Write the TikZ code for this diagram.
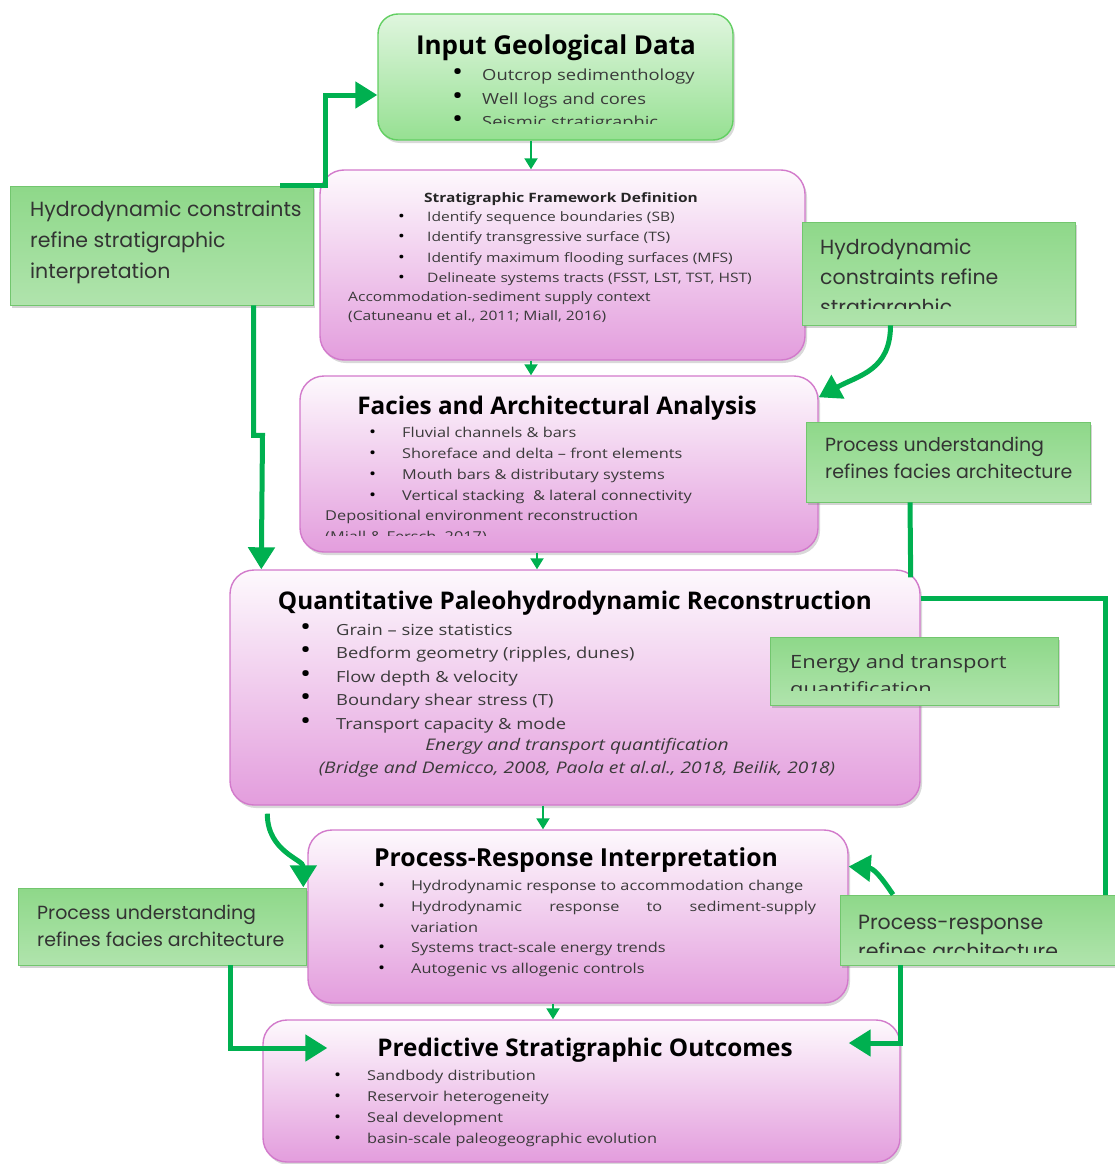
\documentclass[tikz,border=0pt]{standalone}
\usepackage{fontspec}
\setmainfont{Open Sans}
\newfontfamily\listfont[FakeStretch=1.2]{Open Sans}
\newfontfamily\notefont{Poppins}
\usepackage{tikz}
\usetikzlibrary{shapes,arrows.meta,positioning,shadows}

\definecolor{flowgreen}{HTML}{00B050}
\definecolor{stagepink}{HTML}{E39DDD}
\definecolor{stageedge}{HTML}{D27ACB}
\definecolor{inputgreen}{HTML}{96E092}
\definecolor{inputedge}{HTML}{62CF62}
\definecolor{notegreen}{HTML}{8ED889}
\definecolor{noteedge}{HTML}{72C66E}
\definecolor{listgray}{HTML}{3A3A3A}

\newcommand{\bul}[1][33pt]{\makebox[#1][l]{\textcolor{black}{\scalebox{1.6}{\textbullet}}}}
\newcommand{\sbul}[1][33pt]{\makebox[#1][l]{\textcolor{black}{\scalebox{1.15}{\textbullet}}}}

\tikzset{
  stage/.style={draw=stageedge, line width=1.4pt, rounded corners=24pt, inner sep=0pt,
    top color=stagepink!6, middle color=stagepink!45!white, bottom color=stagepink,
    drop shadow={opacity=0.3, shadow xshift=2pt, shadow yshift=-3pt}},
  inputbox/.style={draw=inputedge, line width=1.4pt, rounded corners=20pt, inner sep=0pt,
    top color=inputgreen!30!white, bottom color=inputgreen,
    drop shadow={opacity=0.3, shadow xshift=2pt, shadow yshift=-3pt}},
  note/.style={draw=noteedge, line width=0.8pt, inner sep=0pt, shading angle=-25,
    top color=notegreen, middle color=notegreen!25!white, bottom color=notegreen!70!white,
    drop shadow={opacity=0.35, shadow xshift=2pt, shadow yshift=-3pt}},
  title/.style={font=\fontsize{24.3}{27}\selectfont\bfseries, text=black},
  items/.style={align=left, anchor=west, inner sep=0pt, text=listgray},
  notetext/.style={align=left, anchor=west, inner sep=0pt, text=black!80},
  link/.style={draw=flowgreen, line width=2pt, -{Triangle[width=13pt,length=11pt]}},
  flowline/.style={draw=flowgreen, line width=5pt},
  feedback/.style={flowline, -{Triangle[width=26pt,length=22pt]}},
}

\begin{document}
\begin{tikzpicture}[x=1pt, y=-1pt]
  \useasboundingbox (0,0) rectangle (1115,1164);

  % main stages
  \node[inputbox, minimum width=355pt, minimum height=126pt] (input) at (555.5,77) {};
  \node[stage, minimum width=485pt, minimum height=190pt] (strat) at (562.5,265) {};
  \node[stage, minimum width=518pt, minimum height=176pt] (facies) at (559,464) {};
  \node[stage, minimum width=690pt, minimum height=235pt] (quant) at (575,687.5) {};
  \node[stage, minimum width=540pt, minimum height=173pt] (resp) at (578,916.5) {};
  \node[stage, minimum width=637pt, minimum height=142pt] (pred) at (581.5,1091) {};

  % stage texts
  \node[title, font=\fontsize{26}{29}\selectfont\bfseries] (input-t) at (556,48) {Input Geological Data};
  \begin{scope}
    \clip (380,15) rectangle (732,123);
    \node[items, font=\listfont\fontsize{15.3}{23.5}\selectfont] (input-l) at (452,100)
      {\bul[30pt]Outcrop sedimenthology\\ \bul[30pt]Well logs and cores\\ \bul[30pt]Seismic stratigraphic};
  \end{scope}

  \node[font=\listfont\fontsize{12.9}{15}\selectfont\bfseries, text=black!85] (strat-t) at (561,199)
    {Stratigraphic Framework Definition};
  \node[items, font=\listfont\fontsize{13}{20.3}\selectfont] (strat-l) at (398,248.5)
    {\sbul[29pt]Identify sequence boundaries (SB)\\ \sbul[29pt]Identify transgressive surface (TS)\\
     \sbul[29pt]Identify maximum flooding surfaces (MFS)\\ \sbul[29pt]Delineate systems tracts (FSST, LST, TST, HST)};
  \node[items, font=\listfont\fontsize{13}{19}\selectfont] (strat-c) at (348,307.5)
    {Accommodation-sediment supply context\\ (Catuneanu et al., 2011; Miall, 2016)};

  \node[title] (facies-t) at (557,408) {Facies and Architectural Analysis};
  \node[items, font=\listfont\fontsize{13.6}{21}\selectfont] (facies-l) at (369,465.5)
    {\sbul Fluvial channels \& bars\\ \sbul Shoreface and delta \textendash{} front elements\\
     \sbul Mouth bars \& distributary systems\\ \sbul Vertical stacking \ \& lateral connectivity};
  \node[items, font=\listfont\fontsize{13.6}{20}\selectfont] (facies-c) at (325,517)
    {Depositional environment reconstruction};
  \begin{scope}
    \clip (310,522) rectangle (800,535);
    \node[items, font=\listfont\fontsize{13.6}{20}\selectfont] (facies-r) at (325,537.5) {(Miall \& Fersch, 2017)};
  \end{scope}

  \node[title] (quant-t) at (575,603) {Quantitative Paleohydrodynamic Reconstruction};
  \node[items, font=\listfont\fontsize{15.3}{23.5}\selectfont] (quant-l) at (300,678)
    {\bul[36pt]Grain \textendash{} size statistics\\ \bul[36pt]Bedform geometry (ripples, dunes)\\
     \bul[36pt]Flow depth \& velocity\\ \bul[36pt]Boundary shear stress (T)\\ \bul[36pt]Transport capacity \& mode};
  \node[font=\listfont\fontsize{16}{23}\selectfont\itshape, text=listgray, align=center] (quant-c) at (577,758)
    {Energy and transport quantification\\ (Bridge and Demicco, 2008, Paola et al.al., 2018, Beilik, 2018)};

  \node[title, font=\fontsize{24.8}{27}\selectfont\bfseries] (resp-t) at (576,860) {Process-Response Interpretation};
  \node[items, font=\listfont\fontsize{13.6}{20.75}\selectfont] (resp-l) at (378,928.5)
    {\sbul Hydrodynamic response to accommodation change\\
     \sbul\makebox[405pt][s]{Hydrodynamic\hfill response\hfill to\hfill sediment-supply}\\
     \hspace*{33pt}variation\\
     \sbul Systems tract-scale energy trends\\ \sbul Autogenic vs allogenic controls};

  \node[title] (pred-t) at (585,1050) {Predictive Stratigraphic Outcomes};
  \node[items, font=\listfont\fontsize{13.6}{21}\selectfont] (pred-l) at (334,1108.5)
    {\sbul Sandbody distribution\\ \sbul Reservoir heterogeneity\\ \sbul Seal development\\
     \sbul basin-scale paleogeographic evolution};

  % side notes
  \node[note, minimum width=303pt, minimum height=119pt] (hydroA) at (161.5,245.5) {};
  \node[notetext, font=\notefont\fontsize{20.5}{31}\selectfont] (hydroA-t) at (30,242)
    {Hydrodynamic constraints\\ refine stratigraphic\\ interpretation};

  \node[note, minimum width=273pt, minimum height=103pt] (hydroB) at (938.5,273.5) {};
  \begin{scope}
    \clip (803,223) rectangle (1074,308);
    \node[notetext, font=\notefont\fontsize{20.5}{30}\selectfont] (hydroB-t) at (820,279)
      {Hydrodynamic\\ constraints refine\\ stratigraphic};
  \end{scope}

  \node[note, minimum width=284pt, minimum height=80pt] (procC) at (948,462) {};
  \node[notetext, font=\notefont\fontsize{19}{27}\selectfont] (procC-t) at (825,457.5)
    {Process understanding\\ refines facies architecture};

  \node[note, minimum width=288pt, minimum height=68pt] (energyD) at (914,671) {};
  \begin{scope}
    \clip (771,638) rectangle (1057,690);
    \node[notetext, font=\listfont\fontsize{18.3}{27}\selectfont] (energyD-t) at (790,677.5)
      {Energy and transport\\ quantification};
  \end{scope}

  \node[note, minimum width=288pt, minimum height=77pt] (procE) at (162,926.5) {};
  \node[notetext, font=\notefont\fontsize{19}{27}\selectfont] (procE-t) at (37,925.5)
    {Process understanding\\ refines facies architecture};

  \node[note, minimum width=278pt, minimum height=70pt] (respF) at (979,930) {};
  \begin{scope}
    \clip (841,896) rectangle (1115,952);
    \node[notetext, font=\notefont\fontsize{20.5}{29}\selectfont] (respF-t) at (858,936.5)
      {Process-response\\ refines architecture};
  \end{scope}

  % stage to stage
  \coordinate (colA) at (531,0);
  \coordinate (colB) at (537,0);
  \coordinate (colC) at (543,0);
  \coordinate (colD) at (553,0);
  \draw[link] (input.south -| colA) -- (strat.north -| colA);
  \draw[link] (strat.south -| colA) -- (facies.north -| colA);
  \draw[link] (facies.south -| colB) -- (quant.north -| colB);
  \draw[link] (quant.south -| colC) -- (resp.north -| colC);
  \draw[link] (resp.south -| colD) -- (pred.north -| colD);

  % feedback loops
  \draw[feedback] ([xshift=-33pt]hydroA.north east) -- ++(45,0) |- ([yshift=-18pt]input.west);
  \draw[feedback] ([xshift=92pt]hydroA.south) -- ++(0,130) -- ++(9,0) -- ([xshift=32pt]quant.north west);
  \draw[feedback] ([xshift=-48pt]hydroB.south) .. controls +(0,45) and +(40,-22) .. ([yshift=-22pt]facies.north east);
  \draw[flowline] ([xshift=-38pt]procC.south) -- ([xshift=-10pt,yshift=-8pt]quant.north east);
  \draw[flowline] ([yshift=89pt]quant.east) -| ([xshift=-13pt]respF.north east);
  \draw[feedback] ([xshift=-86pt]respF.north) .. controls +(-12,-18) and +(25,2) .. ([yshift=50pt]resp.east);
  \draw[feedback] ([xshift=-79pt]respF.south) |- ([xshift=-52pt,yshift=48pt]pred.east);
  \draw[feedback] ([xshift=38pt,yshift=-8pt]quant.south west) .. controls +(0,38) and +(0,-28) .. ([xshift=-4pt,yshift=-58pt]resp.north west);
  \draw[feedback] ([xshift=68pt]procE.south) |- ([xshift=65pt,yshift=43pt]pred.west);
\end{tikzpicture}
\end{document}
